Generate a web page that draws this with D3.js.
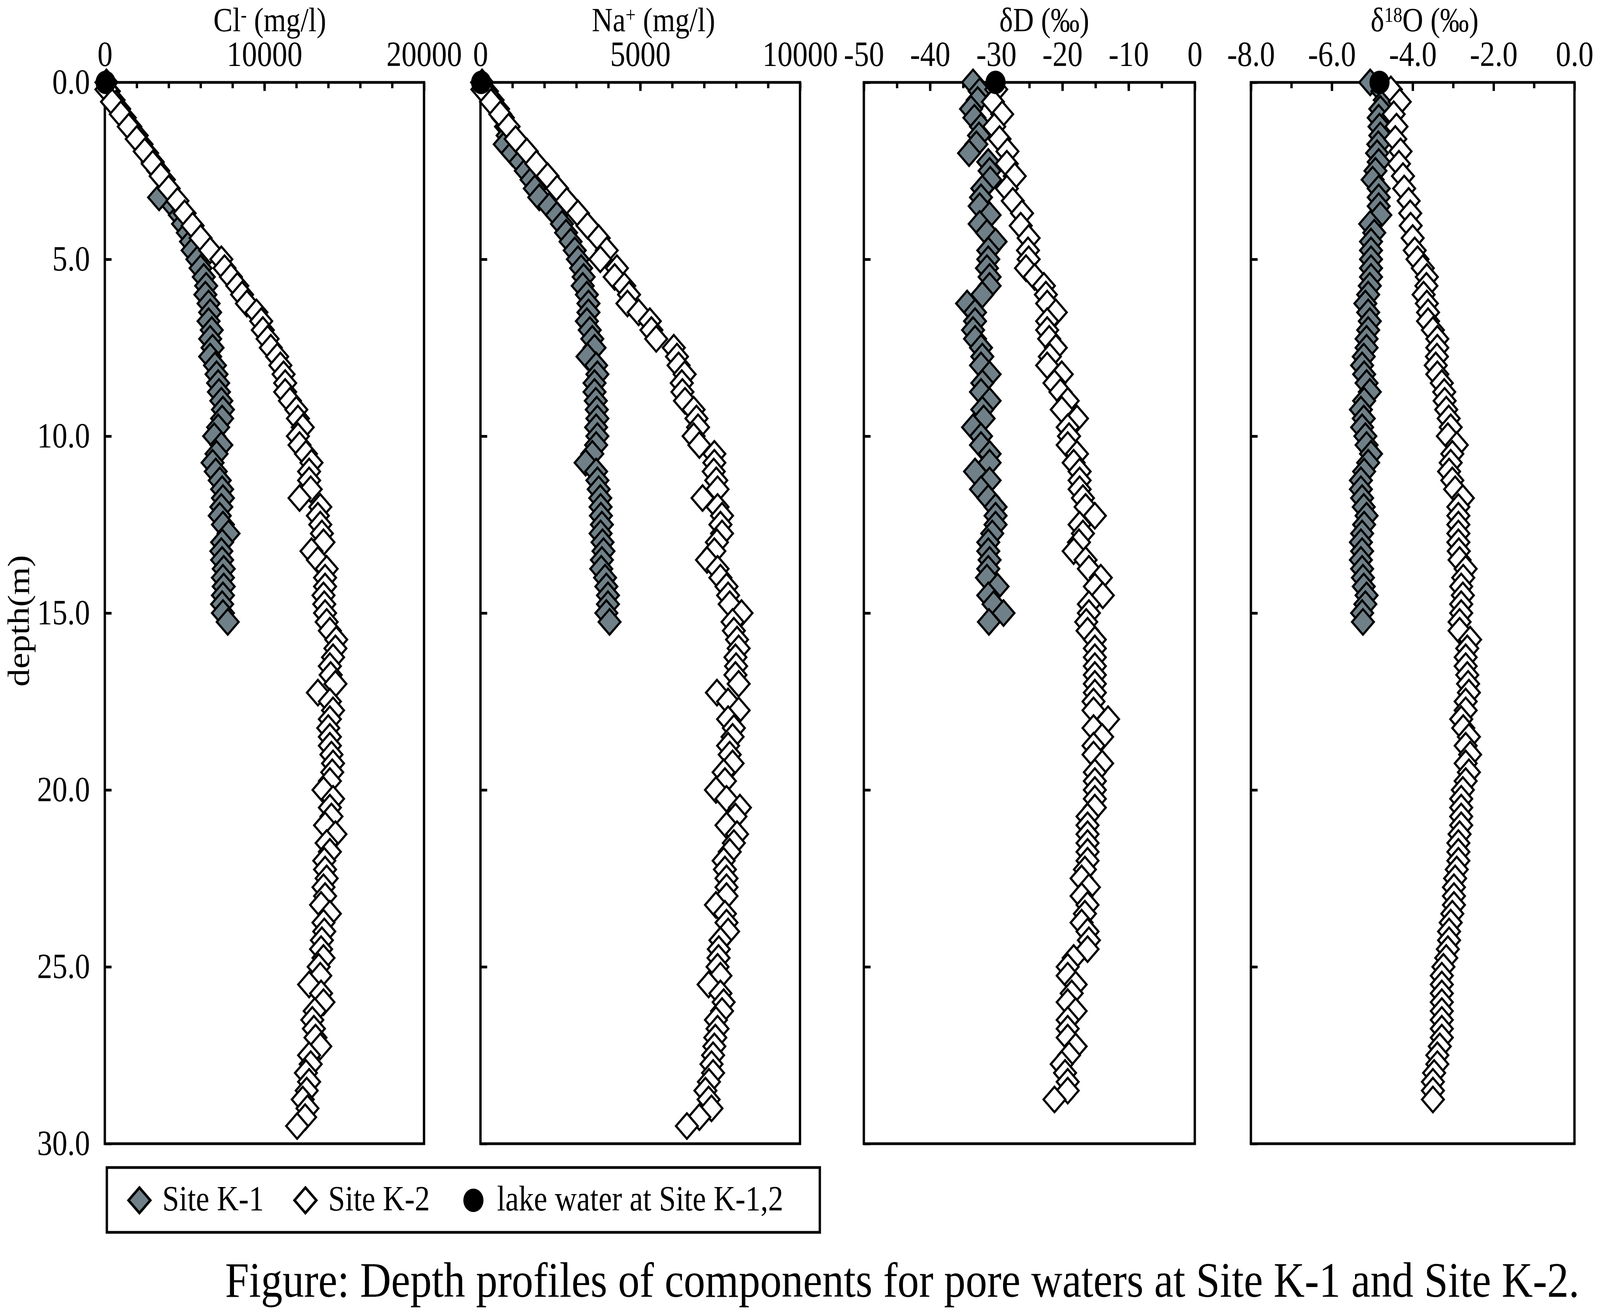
<!DOCTYPE html>
<html>
<head>
<meta charset="utf-8">
<script src="https://cdnjs.cloudflare.com/ajax/libs/d3/7.8.5/d3.min.js"></script>
<style>
  html, body { margin: 0; padding: 0; background: #fff; overflow: hidden; }
  svg { display: block; width: 100vw; height: 100vh; }
  text { font-family: "Liberation Serif", "Times New Roman", serif; fill: #000; }
</style>
</head>
<body>
<script>
// ---- data ----
// Site K-1 sample depths (m)
var k1Depth = [0.00,0.25,0.50,0.75,1.00,1.25,1.50,1.75,2.00,2.25,2.50,2.75,3.00,3.25,3.50,3.75,
  4.00,4.25,4.50,4.75,5.00,5.25,5.50,5.75,6.00,6.25,6.50,6.75,7.00,7.25,7.50,7.75,
  8.00,8.25,8.50,8.75,9.00,9.25,9.50,9.75,10.00,10.25,10.50,10.75,11.00,11.25,11.50,11.75,
  12.00,12.25,12.50,12.75,13.00,13.25,13.50,13.75,14.00,14.25,14.50,14.75,15.00,15.25];

var k1Cl = [100,250,550,900,1250,1600,2000,2300,2650,3000,3350,3700,3900,3400,4300,4700,
  4900,5200,5400,5500,5800,6000,6200,6350,6300,6500,6600,6500,6700,6600,6750,6600,
  6900,7000,7100,7150,7300,7400,7350,7100,6850,7300,7000,6750,6950,7200,7350,7400,
  7300,7200,7400,7750,7350,7300,7350,7450,7400,7450,7400,7350,7400,7700];

var k1Na = [50,200,380,550,700,800,850,760,1000,1250,1420,1600,1700,1840,2150,2390,
  2550,2680,2820,2950,3050,3150,3230,3200,3330,3380,3380,3330,3420,3500,3570,3350,
  3620,3660,3570,3570,3610,3640,3660,3620,3660,3620,3500,3290,3620,3660,3700,3750,
  3760,3770,3800,3760,3820,3850,3800,3780,3900,3940,3990,3990,3940,4040];

var k1dD = [-33.5,-32.5,-32.8,-33.8,-33.3,-32.3,-32.6,-33.0,-34.1,-31.2,-31.0,-30.9,-32.1,-32.3,-32.5,-31.0,
  -32.5,-31.4,-30.1,-31.2,-31.2,-31.4,-31.0,-31.0,-32.1,-34.4,-33.2,-33.2,-33.5,-33.2,-32.3,-32.1,
  -32.3,-31.0,-32.1,-32.3,-31.0,-32.1,-31.9,-33.5,-32.3,-32.3,-31.0,-31.0,-33.2,-31.0,-32.3,-31.2,
  -30.1,-30.1,-30.1,-30.6,-31.2,-31.2,-31.0,-31.2,-31.4,-29.8,-31.2,-30.4,-28.9,-31.1];

var k1d18O = [-5.05,-4.75,-4.69,-4.80,-4.84,-4.82,-4.80,-4.85,-4.88,-4.84,-4.92,-4.99,-4.84,-4.84,-4.84,-4.80,
  -5.05,-4.95,-5.03,-5.03,-5.03,-5.03,-5.03,-5.06,-5.10,-5.17,-5.10,-5.06,-5.10,-5.14,-5.14,-5.21,
  -5.25,-5.20,-5.14,-5.06,-5.20,-5.28,-5.21,-5.25,-5.17,-5.14,-5.03,-5.10,-5.20,-5.28,-5.28,-5.25,
  -5.21,-5.14,-5.20,-5.25,-5.28,-5.25,-5.28,-5.25,-5.23,-5.21,-5.14,-5.17,-5.25,-5.23];

// Site K-2 sample depths (m); the isotope series stop at 28.75 m
var k2Depth = [0.20,0.55,0.90,1.25,1.60,1.95,2.30,2.65,3.00,3.35,3.70,4.05,4.40,4.75,
  5.00,5.25,5.50,5.75,6.00,6.25,6.50,6.75,7.00,7.25,7.50,7.75,8.00,8.25,8.50,8.75,
  9.00,9.25,9.50,9.75,10.00,10.25,10.50,10.75,11.00,11.25,11.50,11.75,12.00,12.25,12.50,12.75,
  13.00,13.25,13.50,13.75,14.00,14.25,14.50,14.75,15.00,15.25,15.50,15.75,16.00,16.25,16.50,16.75,
  17.00,17.25,17.50,17.75,18.00,18.25,18.50,18.75,19.00,19.25,19.50,19.75,20.00,20.25,20.50,20.75,
  21.00,21.25,21.50,21.75,22.00,22.25,22.50,22.75,23.00,23.25,23.50,23.75,24.00,24.25,24.50,24.75,
  25.00,25.25,25.50,25.75,26.00,26.25,26.50,26.75,27.00,27.25,27.50,27.75,28.00,28.25,28.50,28.75,
  29.00,29.25,29.50];

var k2Cl = [100,450,1000,1500,2000,2500,3000,3500,4000,4550,5000,5500,6000,6600,
  7300,7500,7900,8300,8600,8900,9500,9800,9900,10200,10400,10800,11000,11200,11300,11300,
  11600,12000,12100,12400,12100,12200,12600,12950,12800,12800,12900,12200,13500,13350,13500,13600,
  13700,12950,13350,13900,13800,13800,13700,13750,13800,13900,14100,14500,14450,14300,14100,14150,
  14450,13350,14100,14300,14100,14000,14100,14100,14200,14300,14250,14100,13700,14300,14100,14200,
  13800,14450,13900,14100,13750,13800,13900,13700,13800,13550,14100,13700,13750,13600,13550,13700,
  13400,13500,12800,13550,13700,13150,13000,13100,13200,13500,12800,12900,12600,12800,12650,12400,
  12700,12550,12050];

var k2Na = [60,330,620,880,1100,1450,1750,2100,2400,2700,3050,3350,3700,3950,
  3750,4270,4200,4500,4650,4600,4950,5300,5350,5500,6050,6150,6200,6390,6300,6320,
  6400,6670,6760,6810,6670,6850,7320,7320,7300,7380,7420,6950,7420,7560,7510,7560,
  7400,7320,7090,7420,7510,7700,7750,7800,8170,7890,7930,8030,8080,7980,8000,7980,
  8080,7400,7750,8080,7750,7930,7890,7750,7800,7890,7610,7650,7370,7700,8120,7980,
  7700,8030,7930,7800,7610,7650,7700,7700,7700,7370,7650,7700,7750,7510,7460,7450,
  7420,7510,7140,7510,7610,7560,7370,7420,7350,7320,7280,7230,7280,7150,7040,7140,
  7230,6850,6460];

var k2dD = [-30.0,-30.5,-29.1,-30.3,-29.5,-28.3,-28.4,-27.2,-28.4,-27.5,-26.1,-26.3,-25.1,-25.2,
  -25.1,-25.5,-24.2,-22.8,-22.5,-22.3,-21.0,-22.3,-22.3,-22.0,-21.0,-21.9,-22.3,-20.1,-21.2,-20.3,
  -19.2,-20.1,-17.8,-19.2,-19.0,-19.2,-17.8,-18.3,-17.4,-17.4,-17.4,-16.9,-16.5,-15.1,-17.4,-16.9,
  -17.5,-18.3,-16.5,-16.0,-14.2,-15.1,-13.9,-16.0,-16.0,-16.4,-16.2,-15.1,-15.1,-15.1,-15.1,-15.1,
  -15.1,-15.1,-15.3,-15.3,-13.1,-15.3,-14.0,-15.3,-15.3,-14.0,-15.1,-15.1,-15.1,-15.1,-15.1,-16.2,
  -16.2,-16.2,-16.2,-16.2,-16.2,-16.6,-17.1,-16.0,-17.1,-16.2,-16.6,-17.1,-16.2,-16.0,-16.2,-18.3,
  -19.2,-19.2,-18.0,-18.6,-19.2,-18.0,-19.2,-19.2,-19.2,-18.0,-19.0,-20.1,-19.6,-19.2,-19.2,-21.2];

var k2d18O = [-4.54,-4.32,-4.47,-4.40,-4.43,-4.30,-4.34,-4.24,-4.21,-4.10,-4.06,-4.05,-4.00,-3.95,
  -3.88,-3.75,-3.65,-3.66,-3.73,-3.65,-3.62,-3.62,-3.50,-3.39,-3.39,-3.40,-3.43,-3.39,-3.28,-3.22,
  -3.21,-3.17,-3.11,-3.06,-3.13,-2.91,-3.02,-3.06,-3.10,-3.02,-2.95,-2.76,-2.87,-2.87,-2.87,-2.87,
  -2.87,-2.86,-2.84,-2.69,-2.75,-2.80,-2.76,-2.80,-2.80,-2.84,-2.84,-2.58,-2.65,-2.69,-2.69,-2.65,
  -2.63,-2.61,-2.69,-2.69,-2.80,-2.75,-2.61,-2.69,-2.58,-2.69,-2.61,-2.69,-2.76,-2.80,-2.80,-2.80,
  -2.80,-2.84,-2.87,-2.87,-2.87,-2.91,-2.95,-2.98,-2.98,-2.98,-3.02,-3.06,-3.10,-3.10,-3.13,-3.17,
  -3.24,-3.28,-3.28,-3.28,-3.28,-3.28,-3.28,-3.28,-3.28,-3.33,-3.39,-3.39,-3.47,-3.50,-3.50,-3.50];

// lake water at Site K-1,2 (surface)
var lakeDepth = 0;
var lakeValues = { Cl: 50, Na: 20, dD: -30.1, d18O: -4.82 };

var depthTicks = [0, 5, 10, 15, 20, 25, 30];
var legendLabels = ["Site K-1", "Site K-2", "lake water at Site K-1,2"];
var captionText = "Figure: Depth profiles of components for pore waters at Site K-1 and Site K-2.";

// ---- layout ----
var svgWidth = 4762, svgHeight = 3360;
var plotTop = 211, plotBottom = 2929;
var fontSize = 90;
var k1Fill = "#6f8088";

// fill the whole window with the 4762x3360 drawing
var svg = d3.select("body").append("svg")
  .attr("viewBox", `0 0 ${svgWidth} ${svgHeight}`)
  .attr("preserveAspectRatio", "none");

svg.append("rect").attr("width", svgWidth).attr("height", svgHeight).attr("fill", "#fff");

var yScale = d3.scaleLinear().domain([0, 30]).range([plotTop, plotBottom]);

// panel set-up (title pieces: [text, isSuperscript])
var panels = [
  { key: "Cl", left: 312, right: 1262, domain: [0, 20000], minor: 2000, major: [0, 10000, 20000],
    fmt: d => String(d), k1: k1Cl, k2: k2Cl, titleX: 803,
    title: [["Cl", false], ["-", true], [" (mg/l)", false]], depthLabels: true },
  { key: "Na", left: 1430, right: 2381, domain: [0, 10000], minor: 1000, major: [0, 5000, 10000],
    fmt: d => String(d), k1: k1Na, k2: k2Na, titleX: 1945,
    title: [["Na", false], ["+", true], [" (mg/l)", false]], depthLabels: false },
  { key: "dD", left: 2571, right: 3556, domain: [-50, 0], minor: 5, major: [-50, -40, -30, -20, -10, 0],
    fmt: d => String(d), k1: k1dD, k2: k2dD, titleX: 3108,
    title: [["\u03B4D (\u2030)", false]], depthLabels: false },
  { key: "d18O", left: 3723, right: 4686, domain: [-8, 0], minor: 1, major: [-8, -6, -4, -2, 0],
    fmt: d => d.toFixed(1), k1: k1d18O, k2: k2d18O, titleX: 4240,
    title: [["\u03B4", false], ["18", true], ["O (\u2030)", false]], depthLabels: false }
];

var diamond = d3.symbol().type(d3.symbolSquare).size(2116);

function styleAxis(g, width) {
  g.select(".domain").remove();
  g.selectAll(".tick line").attr("stroke", "#000").attr("stroke-width", width);
  g.selectAll(".tick text")
    .attr("font-family", "Liberation Serif, Times New Roman, serif")
    .attr("font-size", fontSize)
    .attr("fill", "#000");
}

function drawTitle(g, x, pieces) {
  var t = g.append("text")
    .attr("x", x)
    .attr("y", 80)
    .attr("text-anchor", "middle")
    .attr("font-size", 86);
  var raised = false;
  pieces.forEach(function(p) {
    var span = t.append("tspan").text(p[0]);
    if (p[1] && !raised) {
      span.attr("font-size", 54).attr("dy", -24);
      raised = true;
    } else if (!p[1] && raised) {
      span.attr("dy", 24);
      raised = false;
    }
  });
}

panels.forEach(function(p) {
  var x = d3.scaleLinear().domain(p.domain).range([p.left, p.right]);
  var g = svg.append("g").attr("class", "panel-" + p.key);

  // minor ticks along the top (inward)
  var minorVals = d3.range(p.domain[0], p.domain[1] + p.minor / 2, p.minor);
  g.append("g")
    .attr("transform", `translate(0, ${plotTop})`)
    .call(d3.axisTop(x).tickValues(minorVals).tickSize(-15).tickFormat(""))
    .call(a => styleAxis(a, 7));

  // major ticks + labels
  g.append("g")
    .attr("transform", `translate(0, ${plotTop})`)
    .call(d3.axisTop(x).tickValues(p.major).tickSize(-22).tickPadding(42).tickFormat(p.fmt))
    .call(a => styleAxis(a, 7));

  // depth axis (inward ticks, labels on the first panel only)
  g.append("g")
    .attr("transform", `translate(${p.left}, 0)`)
    .call(d3.axisLeft(yScale).tickValues(depthTicks).tickSize(-20).tickPadding(44)
      .tickFormat(p.depthLabels ? d3.format(".1f") : ""))
    .call(a => styleAxis(a, 7));

  // frame
  g.append("rect")
    .attr("x", p.left)
    .attr("y", plotTop)
    .attr("width", p.right - p.left)
    .attr("height", plotBottom - plotTop)
    .attr("fill", "none")
    .attr("stroke", "#000")
    .attr("stroke-width", 7);

  drawTitle(g, p.titleX, p.title);

  var k1Pts = p.k1.map((v, i) => ({ depth: k1Depth[i], value: v }));
  var k2Pts = p.k2.map((v, i) => ({ depth: k2Depth[i], value: v }));

  g.append("g").selectAll("path")
    .data(k1Pts)
    .enter()
    .append("path")
    .attr("d", diamond)
    .attr("transform", d => `translate(${x(d.value)}, ${yScale(d.depth)}) rotate(45)`)
    .attr("fill", k1Fill)
    .attr("stroke", "#000")
    .attr("stroke-width", 6);

  g.append("g").selectAll("path")
    .data(k2Pts)
    .enter()
    .append("path")
    .attr("d", diamond)
    .attr("transform", d => `translate(${x(d.value)}, ${yScale(d.depth)}) rotate(45)`)
    .attr("fill", "#fff")
    .attr("stroke", "#000")
    .attr("stroke-width", 6);

  g.append("circle")
    .attr("cx", x(lakeValues[p.key]))
    .attr("cy", yScale(lakeDepth))
    .attr("r", 30)
    .attr("fill", "#000");
});

// depth label
svg.append("text")
  .attr("transform", `translate(54, ${(plotTop + plotBottom) / 2 + 20}) rotate(-90)`)
  .attr("text-anchor", "middle")
  .attr("dy", "0.35em")
  .attr("font-size", 92)
  .text("depth(m)");

// legend
var legend = svg.append("g").attr("class", "legend");
legend.append("rect")
  .attr("x", 318).attr("y", 2990)
  .attr("width", 2122).attr("height", 166)
  .attr("fill", "#fff").attr("stroke", "#000").attr("stroke-width", 7);

var legendItems = [
  { label: legendLabels[0], cx: 415, tx: 483, kind: "k1" },
  { label: legendLabels[1], cx: 909, tx: 977, kind: "k2" },
  { label: legendLabels[2], cx: 1409, tx: 1479, kind: "lake" }
];
var legendY = 3074;
legendItems.forEach(function(it) {
  if (it.kind === "lake") {
    legend.append("circle").attr("cx", it.cx).attr("cy", legendY).attr("r", 30).attr("fill", "#000");
  } else {
    legend.append("path")
      .attr("d", diamond)
      .attr("transform", `translate(${it.cx}, ${legendY}) rotate(45)`)
      .attr("fill", it.kind === "k1" ? k1Fill : "#fff")
      .attr("stroke", "#000")
      .attr("stroke-width", 7);
  }
  legend.append("text")
    .attr("x", it.tx)
    .attr("y", legendY + 26)
    .attr("font-size", fontSize)
    .text(it.label);
});

// caption
svg.append("text")
  .attr("x", 670)
  .attr("y", 3321)
  .attr("font-size", 128)
  .text(captionText);
</script>
</body>
</html>
